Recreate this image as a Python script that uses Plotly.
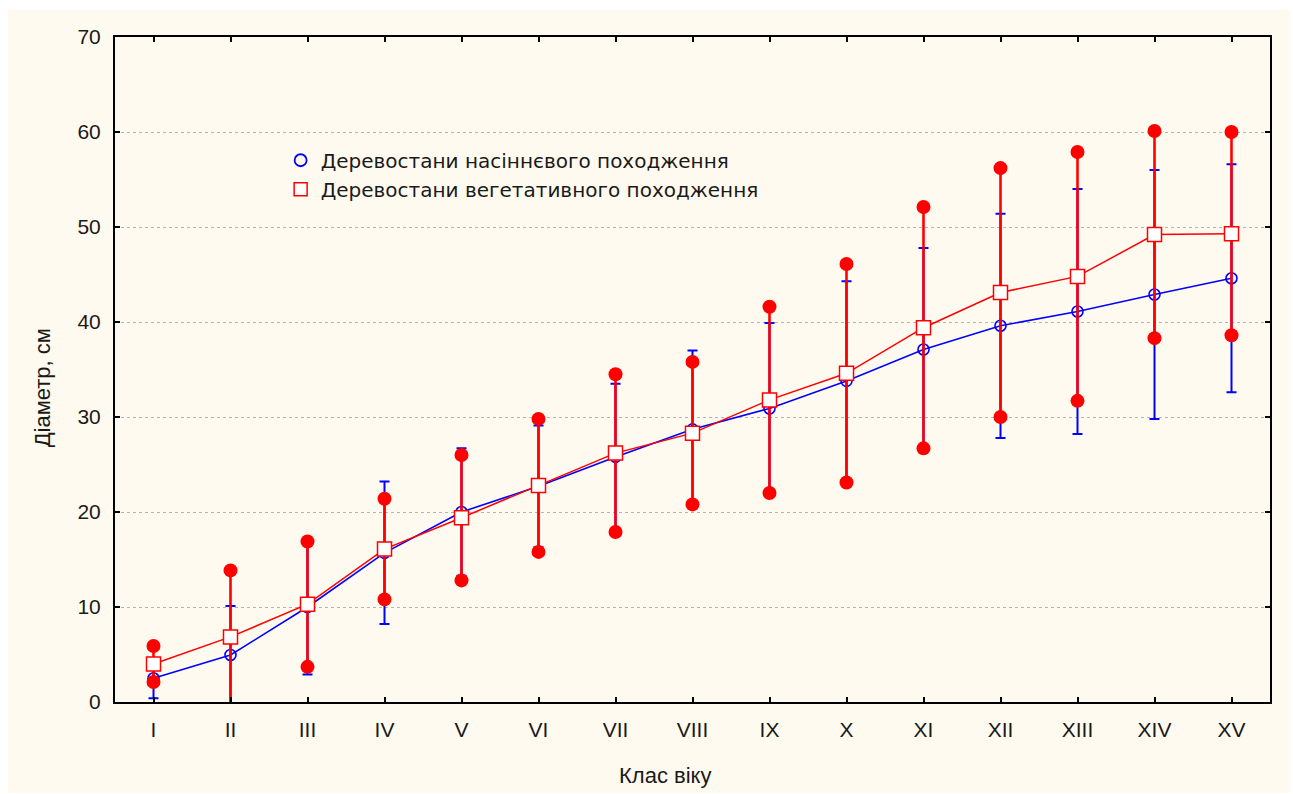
import plotly.graph_objects as go

classes = ["I", "II", "III", "IV", "V", "VI", "VII", "VIII", "IX", "X",
           "XI", "XII", "XIII", "XIV", "XV"]

seed_mean = [2.5, 4.95, 10.0, 15.7, 20.0, 22.7, 25.8, 28.7, 30.9, 33.8,
             37.1, 39.6, 41.1, 42.9, 44.6]
seed_err = [2.1, 5.15, 7.1, 7.5, 6.7, 6.4, 7.7, 8.3, 9.0, 10.5,
            10.7, 11.8, 12.9, 13.1, 12.0]

veg_mean = [4.0, 6.85, 10.3, 16.1, 19.4, 22.8, 26.2, 28.3, 31.8, 34.6,
            39.4, 43.1, 44.8, 49.2, 49.3]
veg_err = [1.9, 7.0, 6.6, 5.3, 6.6, 7.0, 8.3, 7.5, 9.8, 11.5,
           12.7, 13.1, 13.1, 10.9, 10.7]

y_ticks = [0, 10, 20, 30, 40, 50, 60, 70]

name_seed = "Деревостани насіннєвого походження"
name_veg = "Деревостани вегетативного походження"
x_title = "Клас віку"
y_title = "Діаметр, см"

BLUE = "#0000ff"
RED = "#ff0000"
FONT = "Liberation Sans, Arial, sans-serif"
TXT = "#1a1a1a"

fig = go.Figure()

# seed origin: mean with capped error bars
fig.add_trace(go.Scatter(
    x=classes, y=seed_mean, name=name_seed, mode="lines+markers",
    showlegend=False,
    line=dict(color=BLUE, width=1.6),
    marker=dict(symbol="circle-open", size=11, color=BLUE, line=dict(width=1.6)),
    error_y=dict(type="data", array=seed_err, visible=True, color=BLUE,
                 thickness=2, width=5),
))

# vegetative origin: error bars without caps, red dots at the ends
fig.add_trace(go.Scatter(
    x=classes, y=veg_mean, name=name_veg, mode="lines",
    line=dict(color=RED, width=1.5), showlegend=False,
    error_y=dict(type="data", array=veg_err, visible=True, color=RED,
                 thickness=2.6, width=0),
))

ends_x, ends_y = [], []
for c, m, e in zip(classes, veg_mean, veg_err):
    for v in (m + e, m - e):
        if 0 <= v <= 70:
            ends_x.append(c)
            ends_y.append(v)
fig.add_trace(go.Scatter(
    x=ends_x, y=ends_y, mode="markers", showlegend=False,
    marker=dict(symbol="circle", size=14, color=RED),
))

fig.add_trace(go.Scatter(
    x=classes, y=veg_mean, name=name_veg, mode="markers", showlegend=False,
    marker=dict(symbol="square", size=14, color="white",
                line=dict(color=RED, width=1.5)),
))

# legend-only entries
fig.add_trace(go.Scatter(
    x=[None], y=[None], name=name_seed, mode="markers",
    marker=dict(symbol="circle-open", size=12, color=BLUE, line=dict(width=1.8)),
))
fig.add_trace(go.Scatter(
    x=[None], y=[None], name=name_veg, mode="markers",
    marker=dict(symbol="square", size=13, color="white",
                line=dict(color=RED, width=1.5)),
))

fig.update_layout(
    width=1293, height=794,
    margin=dict(l=115, r=23, t=37, b=92),
    paper_bgcolor="white",
    plot_bgcolor="white",
    font=dict(family=FONT, size=21, color=TXT),
    showlegend=True,
    legend=dict(
        x=0.1434, y=0.844, xanchor="left", yanchor="top",
        bgcolor="rgba(0,0,0,0)",
        font=dict(family="DejaVu Sans, sans-serif", size=20, color=TXT),
        itemwidth=30, tracegroupgap=0,
    ),
    xaxis=dict(
        type="category", categoryorder="array", categoryarray=classes,
        range=[-0.5, 14.5],
        showgrid=False, zeroline=False,
        showline=True, linecolor="black", linewidth=2, mirror="ticks",
        ticks="inside", ticklen=5, tickcolor="black", tickwidth=1.5,
        ticklabelstandoff=8,
        tickfont=dict(family=FONT, size=21, color=TXT),
    ),
    yaxis=dict(
        range=[0, 70], tickvals=y_ticks,
        showgrid=True, gridcolor="#b4b4b4", griddash="dot", gridwidth=1,
        zeroline=False,
        showline=True, linecolor="black", linewidth=2, mirror="ticks",
        ticks="inside", ticklen=5, tickcolor="black", tickwidth=1.5,
        ticklabelstandoff=8,
        tickfont=dict(family=FONT, size=21, color=TXT),
    ),
    annotations=[
        dict(text=x_title, xref="paper", yref="paper", x=0.476, y=-0.111,
             xanchor="center", yanchor="middle", showarrow=False,
             font=dict(family=FONT, size=22, color=TXT)),
        dict(text=y_title, xref="paper", yref="paper", x=-0.063, y=0.472,
             xanchor="center", yanchor="middle", showarrow=False, textangle=-90,
             font=dict(family=FONT, size=22, color=TXT)),
    ],
    shapes=[dict(
        type="rect", xref="paper", yref="paper",
        x0=-0.0926, x1=1.0173, y0=-0.137, y1=1.0406,
        fillcolor="#fffaef", line=dict(width=0), layer="below",
    )],
)

fig.write_html("out.html")
